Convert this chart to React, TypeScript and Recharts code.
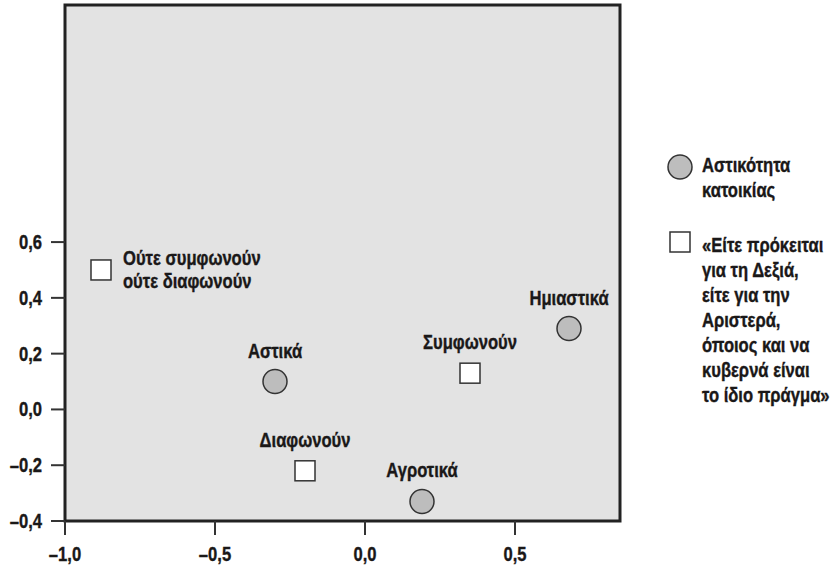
import React from "react";
import {
  ScatterChart,
  Scatter,
  XAxis,
  YAxis,
  ReferenceArea,
  Legend,
} from "recharts";

// scores
const circleNames = ["Αστικά", "Αγροτικά", "Ημιαστικά"];
const circleX = [-0.3, 0.19, 0.68];
const circleY = [0.1, -0.33, 0.29];

const squareNames = ["Συμφωνούν", "Διαφωνούν", "Ούτε συμφωνούν\nούτε διαφωνούν"];
const squareX = [0.35, -0.2, -0.88];
const squareY = [0.13, -0.22, 0.5];

const xTicks = [-1, -0.5, 0, 0.5];
const yTicks = [-0.4, -0.2, 0, 0.2, 0.4, 0.6];

const legendCircle = ["Αστικότητα", "κατοικίας"];
const legendSquare = [
  "«Είτε πρόκειται",
  "για τη Δεξιά,",
  "είτε για την",
  "Αριστερά,",
  "όποιος και να",
  "κυβερνά είναι",
  "το ίδιο πράγμα»",
];

const circles = circleNames.map((name, i) => ({ name, x: circleX[i], y: circleY[i] }));
const squares = squareNames.map((name, i) => ({ name, x: squareX[i], y: squareY[i] }));

// no condensed bold font installed, so squeeze Liberation Sans Bold horizontally
const FONT = '"Liberation Sans", Arial, sans-serif';
const SX = 0.79;
const FS = 21;
const INK = "#1a1818";
const BG = "#e3e3e3";
const GREY = "#bdbdbd";

const fmt = (v: number) => v.toFixed(1).replace(".", ",").replace("-", "–");

function NarrowText({
  x,
  y,
  lines,
  anchor = "start",
  lh = 25,
}: {
  x: number;
  y: number;
  lines: string[];
  anchor?: "start" | "middle" | "end";
  lh?: number;
}) {
  return (
    <text
      transform={`translate(${x},${y}) scale(${SX},1)`}
      textAnchor={anchor}
      fill={INK}
      stroke={INK}
      strokeWidth={0.4}
      fontFamily={FONT}
      fontWeight="bold"
      fontSize={FS}
    >
      {lines.map((l, i) => (
        <tspan key={i} x={0} dy={i === 0 ? 0 : lh}>
          {l}
        </tspan>
      ))}
    </text>
  );
}

function PointLabel({ cx, cy, name }: { cx: number; cy: number; name: string }) {
  const lines = name.split("\n");
  if (lines.length > 1) {
    // two-line label sits right of the marker
    return <NarrowText x={cx + 22} y={cy - 5} lines={lines} lh={23} />;
  }
  return <NarrowText x={cx} y={cy - 24} lines={lines} anchor="middle" />;
}

function CircleShape(p: any) {
  const { cx, cy, payload } = p;
  return (
    <g>
      <circle cx={cx} cy={cy} r={12} fill={GREY} stroke="#333" strokeWidth={1.5} />
      <PointLabel cx={cx} cy={cy} name={payload.name} />
    </g>
  );
}

function SquareShape(p: any) {
  const { cx, cy, payload } = p;
  return (
    <g>
      <rect x={cx - 10} y={cy - 10} width={20} height={20} fill="#fff" stroke="#333" strokeWidth={1.5} />
      <PointLabel cx={cx} cy={cy} name={payload.name} />
    </g>
  );
}

function XTick({ x, y, payload }: any) {
  return <NarrowText x={x} y={y + 15} lines={[fmt(payload.value)]} anchor="middle" />;
}

function YTick({ x, y, payload }: any) {
  return <NarrowText x={x} y={y + 7} lines={[fmt(payload.value)]} anchor="end" />;
}

function LegendBox() {
  return (
    <svg width={170} height={270} style={{ overflow: "visible" }}>
      <circle cx={18} cy={17} r={12} fill={GREY} stroke="#333" strokeWidth={1.5} />
      <NarrowText x={40} y={22} lines={legendCircle} />
      <rect x={8} y={82} width={20} height={20} fill="#fff" stroke="#333" strokeWidth={1.5} />
      <NarrowText x={40} y={102} lines={legendSquare} />
    </svg>
  );
}

export default function App() {
  return (
    <div style={{ position: "absolute", left: 0, top: 0 }}>
      <ScatterChart width={832} height={570} margin={{ top: 5, right: 212, bottom: 0, left: 0 }}>
        <XAxis
          type="number"
          dataKey="x"
          domain={[-1, 0.85]}
          ticks={xTicks}
          axisLine={false}
          tickLine={{ stroke: "#333", strokeWidth: 2 }}
          tickSize={14}
          tickMargin={11}
          height={49}
          tick={<XTick />}
          allowDataOverflow
        />
        <YAxis
          type="number"
          dataKey="y"
          domain={[-0.4, 1.45]}
          ticks={yTicks}
          axisLine={false}
          tickLine={{ stroke: "#333", strokeWidth: 2 }}
          tickSize={14}
          tickMargin={9}
          width={65}
          tick={<YTick />}
          allowDataOverflow
        />
        <ReferenceArea
          x1={-1}
          x2={0.85}
          y1={-0.4}
          y2={1.45}
          fill={BG}
          fillOpacity={1}
          stroke="#222"
          strokeWidth={3}
          ifOverflow="visible"
        />
        <Legend
          layout="vertical"
          align="center"
          verticalAlign="middle"
          wrapperStyle={{ left: 662, top: 150, width: 170 }}
          content={() => <LegendBox />}
        />
        <Scatter name="Αστικότητα κατοικίας" data={circles} shape={CircleShape} isAnimationActive={false} />
        <Scatter name="Είτε πρόκειται" data={squares} shape={SquareShape} isAnimationActive={false} />
      </ScatterChart>
    </div>
  );
}
